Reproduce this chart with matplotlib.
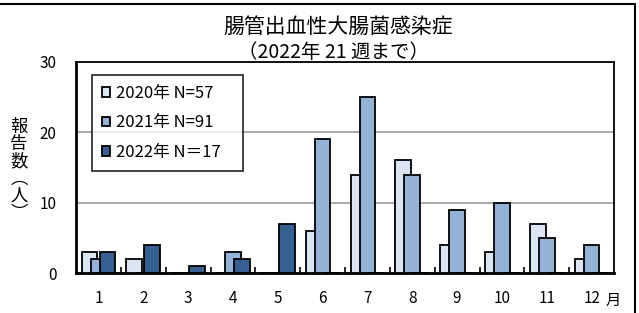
import numpy as np
import matplotlib
matplotlib.use('Agg')
import matplotlib.pyplot as plt
from matplotlib.patches import Rectangle

plt.rcParams['font.family'] = ['Noto Sans CJK JP', 'DejaVu Sans']

# ============================================================================
# DONNEES
# ============================================================================
months = ['1', '2', '3', '4', '5', '6', '7', '8', '9', '10', '11', '12']
cases_2020 = [3, 2, 0, 0, 0, 6, 14, 16, 4, 3, 7, 2]
cases_2021 = [2, 0, 0, 3, 0, 19, 25, 14, 9, 10, 5, 4]
cases_2022 = [3, 4, 1, 2, 7, 0, 0, 0, 0, 0, 0, 0]
labels = ['2020年 N=57', '2021年 N=91', '2022年 N＝17']
colors = ['#dce6f2', '#95b3d7', '#376092']

# ============================================================================
# FIGURE
# ============================================================================
fig = plt.figure(figsize=(6.39, 3.13), dpi=100)
ax = fig.add_axes([76/639, 1 - 273/313, 538/639, 211/313])

x = np.arange(1, len(months) + 1)
width = 0.35
offsets = [-0.2, 0.0, 0.2]
series = [cases_2020, cases_2021, cases_2022]

for i, (vals, off) in enumerate(zip(series, offsets)):
    ax.bar(x + off, vals, width=width, color=colors[i], edgecolor='black',
           linewidth=1.3, label=labels[i], zorder=3 + i)

ax.set_xlim(0.5, 12.5)
ax.set_ylim(0, 30)
ax.set_yticks([0, 10, 20, 30])
ax.set_xticks(x)
ax.set_xticklabels(months)
ax.set_xticks(np.arange(1.5, 12.5, 1), minor=True)
ax.tick_params(axis='x', which='major', length=0, pad=12, labelsize=11)
ax.tick_params(axis='x', which='minor', direction='in', length=4, width=1.2)
ax.tick_params(axis='y', length=0, pad=14, labelsize=11)

ax.yaxis.grid(True, color='#9a9a9a', linewidth=1.2, zorder=0)
ax.set_axisbelow(True)
for side in ['top', 'right']:
    ax.spines[side].set_linewidth(1.3)
for side in ['left', 'bottom']:
    ax.spines[side].set_linewidth(2.0)

# "月" after the last label
ax.text(12.49, -0.13, '月', transform=ax.get_xaxis_transform(),
        ha='center', va='center', fontsize=11)

# Y label vertical
fig.text(19/639, 1 - 170/313, '報\n告\n数\n︵\n人\n︶', ha='center', va='center',
         fontsize=12.5, linespacing=0.93)

# Titles
fig.text(338/639, 1 - 27/313, '腸管出血性大腸菌感染症', ha='center', va='center',
         fontsize=15)
fig.text(334/639, 1 - 52/313, '（2022年 21 週まで）', ha='center', va='center',
         fontsize=14)

leg = ax.legend(loc='upper left',
                bbox_to_anchor=(92/639, 1 - 173/313, 151/639, 98/313),
                bbox_transform=fig.transFigure, mode='expand', fontsize=12,
                frameon=True, fancybox=False, edgecolor='black',
                handlelength=0.5, handleheight=0.5, handletextpad=0.35,
                labelspacing=0.75, borderpad=0.6, borderaxespad=0)
leg.get_frame().set_linewidth(1.3)
leg.set_zorder(10)

# outer frame
fig.patches.append(Rectangle((-0.01, -0.01), 635/639 + 0.01, 1 - 4/313 + 0.01,
                             transform=fig.transFigure, fill=False,
                             edgecolor='black', linewidth=1.5))

fig.savefig('out.png', dpi=100)
